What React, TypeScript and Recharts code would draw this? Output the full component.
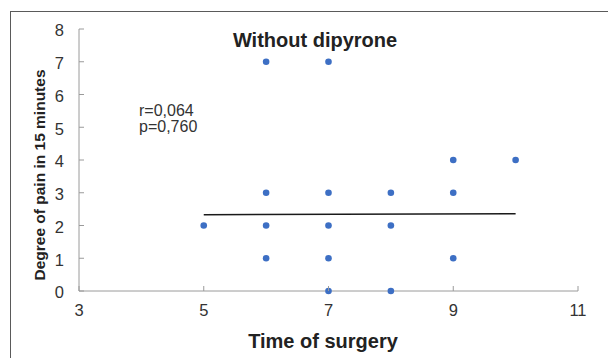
import { ScatterChart, Scatter, XAxis, YAxis } from "recharts"

const timeOfSurgery = [5, 6, 6, 6, 6, 7, 7, 7, 7, 7, 8, 8, 8, 9, 9, 9, 10]
const painAt15 = [2, 7, 3, 2, 1, 7, 3, 2, 1, 0, 3, 2, 0, 4, 3, 1, 4]
const trendX = [5, 10]
const trendY = [2.33, 2.36]
const xTicks = [3, 5, 7, 9, 11]
const yTicks = [0, 1, 2, 3, 4, 5, 6, 7, 8]

const points = timeOfSurgery.map((x, i) => ({ x, y: painAt15[i] }))
const trend = trendX.map((x, i) => ({ x, y: trendY[i] }))

const FONT = "'Liberation Sans', Arial, sans-serif"
const AXIS = "#9a9a9a"
const tickStyle = { fontSize: 16.5, fontFamily: FONT, fill: "#333" }

// ticks point inward, so draw them by hand
const XTick = (props: any) => {
  const { x, y, payload } = props
  const axisY = y - 8
  return (
    <g>
      <line x1={x} y1={axisY} x2={x} y2={axisY - 5} stroke={AXIS} />
      <text x={x} y={axisY + 25} textAnchor="middle" style={tickStyle}>
        {payload.value}
      </text>
    </g>
  )
}

const YTick = (props: any) => {
  const { x, y, payload } = props
  const axisX = x + 8
  return (
    <g>
      <line x1={axisX} y1={y} x2={axisX + 5} y2={y} stroke={AXIS} />
      <text x={axisX - 15} y={y + 7.4} textAnchor="end" style={tickStyle}>
        {payload.value}
      </text>
    </g>
  )
}

const Dot = (props: any) => <circle cx={props.cx} cy={props.cy} r={3.3} fill="#3d6fc4" />

export default function App() {
  return (
    <div
      style={{
        position: "absolute",
        left: 0,
        top: 0,
        width: 608,
        height: 358,
        overflow: "hidden",
        background: "#fff",
        fontFamily: FONT,
      }}
    >
      <div
        style={{
          position: "absolute",
          left: 10,
          top: 11,
          width: 700,
          height: 400,
          border: "1.5px solid #5a5a5a",
        }}
      />
      <ScatterChart width={608} height={358} margin={{ top: 29, right: 30, left: 0, bottom: 0 }}>
        <XAxis
          type="number"
          dataKey="x"
          domain={[3, 11]}
          ticks={xTicks}
          height={67}
          stroke={AXIS}
          tickLine={false}
          tick={<XTick />}
        />
        <YAxis
          type="number"
          dataKey="y"
          domain={[0, 8]}
          ticks={yTicks}
          width={79}
          stroke={AXIS}
          tickLine={false}
          tick={<YTick />}
        />
        <Scatter data={points} shape={<Dot />} isAnimationActive={false} />
        <Scatter
          data={trend}
          line={{ stroke: "#1a1a1a", strokeWidth: 1.6 }}
          shape={() => null}
          isAnimationActive={false}
        />
      </ScatterChart>
      <div
        style={{
          position: "absolute",
          left: 315,
          top: 40,
          transform: "translate(-50%, -50%)",
          fontSize: 20,
          fontWeight: "bold",
          color: "#222",
          whiteSpace: "nowrap",
        }}
      >
        Without dipyrone
      </div>
      <div
        style={{
          position: "absolute",
          left: 139,
          top: 103,
          fontSize: 16,
          lineHeight: "16px",
          color: "#333",
          whiteSpace: "nowrap",
        }}
      >
        r=0,064
        <br />
        p=0,760
      </div>
      <div
        style={{
          position: "absolute",
          left: 40,
          top: 175,
          transform: "translate(-50%, -50%) rotate(-90deg)",
          fontSize: 15.5,
          fontWeight: "bold",
          color: "#222",
          whiteSpace: "nowrap",
        }}
      >
        Degree of pain in 15 minutes
      </div>
      <div
        style={{
          position: "absolute",
          left: 323,
          top: 341,
          transform: "translate(-50%, -50%)",
          fontSize: 20,
          fontWeight: "bold",
          color: "#222",
          whiteSpace: "nowrap",
        }}
      >
        Time of surgery
      </div>
    </div>
  )
}
